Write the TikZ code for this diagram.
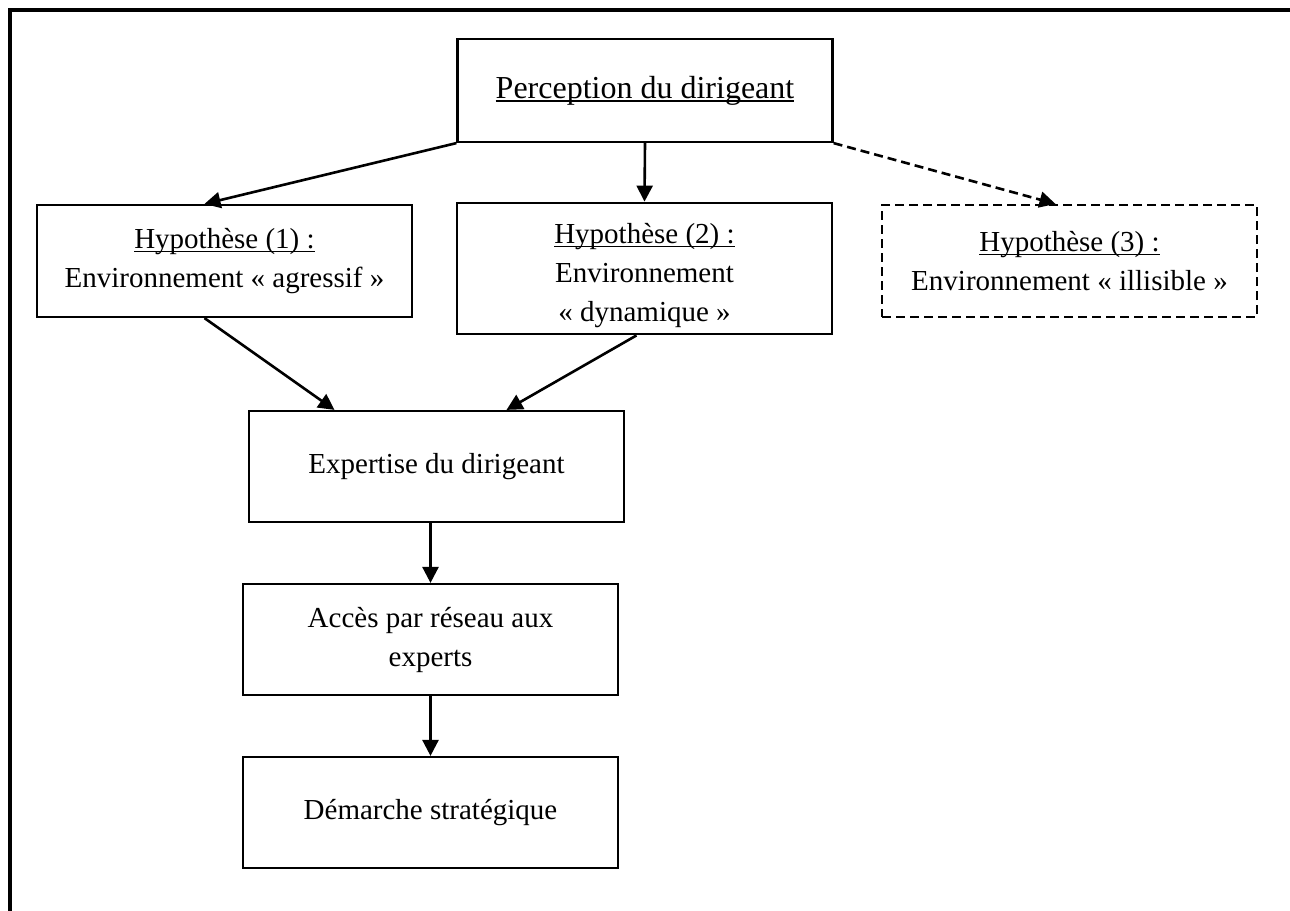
\documentclass[tikz,border=0pt]{standalone}
\usepackage{fontspec}
\setmainfont{Liberation Serif}
\usetikzlibrary{arrows.meta,calc}
\newcommand{\souligne}[1]{\leavevmode\setbox0\hbox{#1}\rlap{\rule[-1.9pt]{\wd0}{0.75pt}}\box0}

\begin{document}
\begin{tikzpicture}[x=0.5pt,y=-0.5pt,
    box/.style={draw,line width=1.1pt,minimum width=187.5pt,align=center,
      font=\fontsize{14.5}{19.5}\selectfont},
    arr/.style={line width=1.3pt,-{Triangle[length=8pt,width=8pt]}},
    tirets/.style={dash pattern=on 4.5pt off 2.5pt}]
      \useasboundingbox (0,0) rectangle (1290,910);
      \draw[line width=1.6pt] (1295,10) -- (10,10) -- (10,915);

      \node[box,minimum height=51.5pt,font=\fontsize{16}{20}\selectfont] (perc) at (645,90.5) {\souligne{Perception du dirigeant}};
      \node[box,minimum height=56pt] (hypA) at (224.5,261) {\souligne{Hypothèse (1) :}\\Environnement « agressif »};
      \node[box,minimum height=65.5pt] (hypB) at (644.5,268.5) {\rule{0pt}{17pt}\souligne{Hypothèse (2) :}\\Environnement\\« dynamique »};
      \node[box,minimum height=56pt,tirets] (hypC) at (1069.5,261) {\souligne{Hypothèse (3) :}\\Environnement « illisible »};
      \node[box,minimum height=55.5pt] (expert) at (436.5,466.5) {Expertise du dirigeant};
      \node[box,minimum height=55.5pt] (acces) at (430.5,639.5) {Accès par réseau aux\\experts};
      \node[box,minimum height=55.5pt] (demarche) at (430.5,812.5) {Démarche stratégique};

      \draw[arr] (perc.south west) -- ([xshift=-10pt]hypA.north);
      \draw[arr] (perc.south) -- (hypB.north);
      \draw[arr,tirets] (perc.south east) -- ([xshift=-7pt]hypC.north);
      \draw[arr] ([xshift=-10pt]hypA.south) -- ([xshift=-51pt]expert.north);
      \draw[arr] ([xshift=-4pt]hypB.south) -- ([xshift=35pt]expert.north);
      \draw[arr] (acces.north |- expert.south) -- (acces.north);
      \draw[arr] (acces.south) -- (demarche.north);
\end{tikzpicture}
\end{document}
